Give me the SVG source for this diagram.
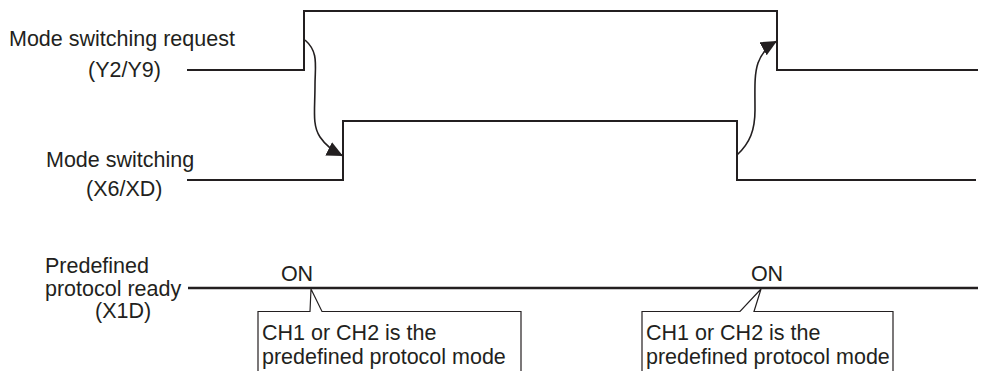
<svg xmlns="http://www.w3.org/2000/svg" width="981" height="371" viewBox="0 0 981 371">
<style>
  text { font-family: "Liberation Sans", Arial, sans-serif; font-size: 21.5px; fill: #231f20; }
  .sig { fill: none; stroke: #231f20; stroke-width: 2; }
  .ready { fill: none; stroke: #231f20; stroke-width: 2.5; }
  .call { fill: #ffffff; stroke: #231f20; stroke-width: 1.2; }
  .arr { fill: none; stroke: #231f20; stroke-width: 1.6; marker-end: url(#head); }
</style>
<defs>
  <marker id="head" markerUnits="userSpaceOnUse" markerWidth="18" markerHeight="15" refX="16" refY="7.5" orient="auto">
    <path d="M0,0 L16,7.5 L0,15 z" fill="#231f20"/>
  </marker>
</defs>
<rect width="981" height="371" fill="#ffffff"/>

<g id="sig-request">
  <text x="9" y="46">Mode switching request</text>
  <text x="88" y="77">(Y2/Y9)</text>
  <polyline class="sig" points="187,70 304,70 304,11 777,11 777,70 978,70"/>
</g>

<g id="sig-mode">
  <text x="46" y="167">Mode switching</text>
  <text x="86" y="196">(X6/XD)</text>
  <polyline class="sig" points="187,180 343,180 343,121 737,121 737,180 976,180"/>
</g>

<g id="sig-ready">
  <text x="45" y="273">Predefined</text>
  <text x="45" y="296">protocol ready</text>
  <text x="95" y="318">(X1D)</text>
  <line class="ready" x1="188" y1="288" x2="978" y2="288"/>
  <text x="297" y="281" text-anchor="middle">ON</text>
  <text x="767" y="281" text-anchor="middle">ON</text>
</g>

<g id="callout-1">
  <polyline class="call" points="258,380 258,311.5 310,311.5 311,289 322,311.5 521,311.5 521,380"/>
  <text x="262" y="340">CH1 or CH2 is the</text>
  <text x="262" y="364">predefined protocol mode</text>
</g>

<g id="callout-2">
  <polyline class="call" points="642,380 642,311.5 740,311.5 761,289 754,311.5 893,311.5 893,380"/>
  <text x="646" y="340">CH1 or CH2 is the</text>
  <text x="646" y="364">predefined protocol mode</text>
</g>

<g id="connectors">
  <path class="arr" d="M305,40 C319,52 315,66 315,85 C315,110 312,125 320,137 C326,146 333,151 343,156"/>
  <path class="arr" d="M737,155 C750,143 755,130 755,110 C755,90 754,75 758,63 C762,52 768,46 777,41"/>
</g>
</svg>
